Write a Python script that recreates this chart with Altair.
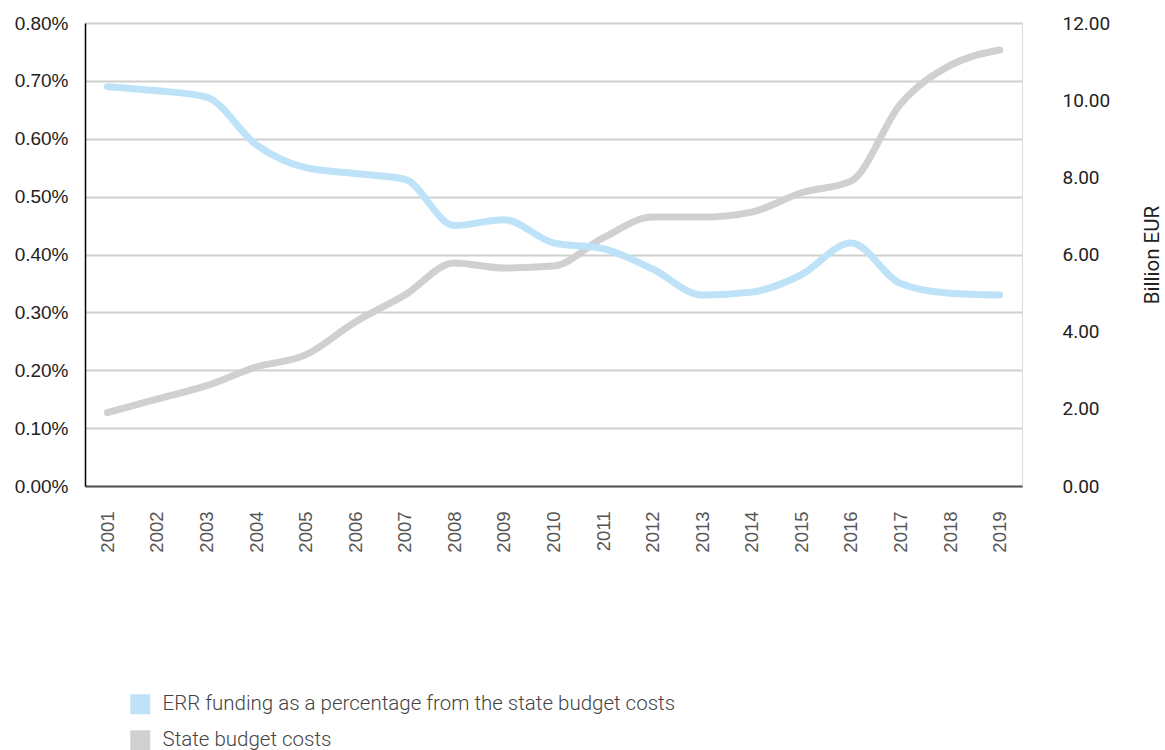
import altair as alt
import pandas as pd

years = [str(y) for y in range(2001, 2020)]
err_pct = [0.69, 0.683, 0.672, 0.59, 0.55, 0.54, 0.53, 0.45, 0.46, 0.42, 0.41, 0.375,
           0.33, 0.335, 0.365, 0.42, 0.35, 0.333, 0.33]
budget = [1.9, 2.25, 2.6, 3.08, 3.4, 4.25, 4.95, 5.78, 5.65, 5.7, 6.43, 6.97,
          6.97, 7.1, 7.6, 7.9, 9.9, 10.9, 11.3]
series_names = ["ERR funding as a percentage from the state budget costs", "State budget costs"]
colors = ["#bee3f8", "#d0d0d0"]

df = pd.DataFrame({
    "year": years * 2,
    "value": err_pct + budget,
    "series": [series_names[0]] * len(years) + [series_names[1]] * len(years),
})

cscale = alt.Scale(domain=series_names, range=colors)

x = alt.X(
    "year:O", title=None,
    scale=alt.Scale(type="point", padding=0.45),
    axis=alt.Axis(labelAngle=270, labelAlign="right", labelBaseline="middle", labelFont="Liberation Sans",
                  labelFontSize=18.5, labelColor="#555555", labelPadding=25, ticks=False,
                  domainColor="#555555", domainWidth=2, grid=False),
)

left = alt.Chart(df).transform_filter(alt.datum.series == series_names[0]).mark_line(
    strokeWidth=7, interpolate="monotone", strokeCap="round", color=colors[0]
).encode(
    x=x,
    y=alt.Y("value:Q", title=None,
            scale=alt.Scale(domain=[0, 0.8], nice=False),
            axis=alt.Axis(values=[0, 0.1, 0.2, 0.3, 0.4, 0.5, 0.6, 0.7, 0.8],
                          labelExpr="format(datum.value, '.2f') + '%'",
                          labelFont="Liberation Sans", labelFontSize=19, labelColor="#222222",
                          labelPadding=17, ticks=False, domainColor="#000000", domainWidth=1.5,
                          grid=True, gridColor="#d0d0d0", gridWidth=2)),
)

right = alt.Chart(df).transform_filter(alt.datum.series == series_names[1]).mark_line(
    strokeWidth=7, interpolate="monotone", strokeCap="round", color=colors[1]
).encode(
    x=x,
    y=alt.Y("value:Q", title="Billion EUR",
            scale=alt.Scale(domain=[0, 12], nice=False),
            axis=alt.Axis(orient="right", values=[0, 2, 4, 6, 8, 10, 12], format=".2f",
                          labelFont="Roboto", labelFontSize=19, labelColor="#222222",
                          labelPadding=40, ticks=False, domain=False, grid=False,
                          titleFont="Roboto", titleFontSize=20.5, titleFontWeight="normal",
                          titleColor="#222222", titleAngle=270, titlePadding=53)),
)

legend_layer = alt.Chart(df).transform_filter(alt.datum.value < 0).mark_square(
    filled=True, opacity=1
).encode(
    color=alt.Color(
        "series:N", scale=cscale,
        legend=alt.Legend(
            title=None, orient="none", legendX=45, legendY=671, direction="vertical",
            symbolType="square", symbolSize=400, symbolStrokeWidth=0, symbolOpacity=1,
            labelFont="Roboto", labelFontSize=20.5, labelColor="#444444", labelFontWeight=300,
            labelLimit=0, rowPadding=15, labelOffset=12,
        ),
    ),
)

chart = alt.layer(right, left, legend_layer).resolve_scale(y="independent").properties(
    width=937, height=463,
    autosize=alt.AutoSizeParams(type="none"),
    padding={"left": 85, "top": 23, "right": 143, "bottom": 264},
).configure_view(stroke=None).configure(background="white")

chart.save("out.html", embed_options={"renderer": "svg", "actions": False})
